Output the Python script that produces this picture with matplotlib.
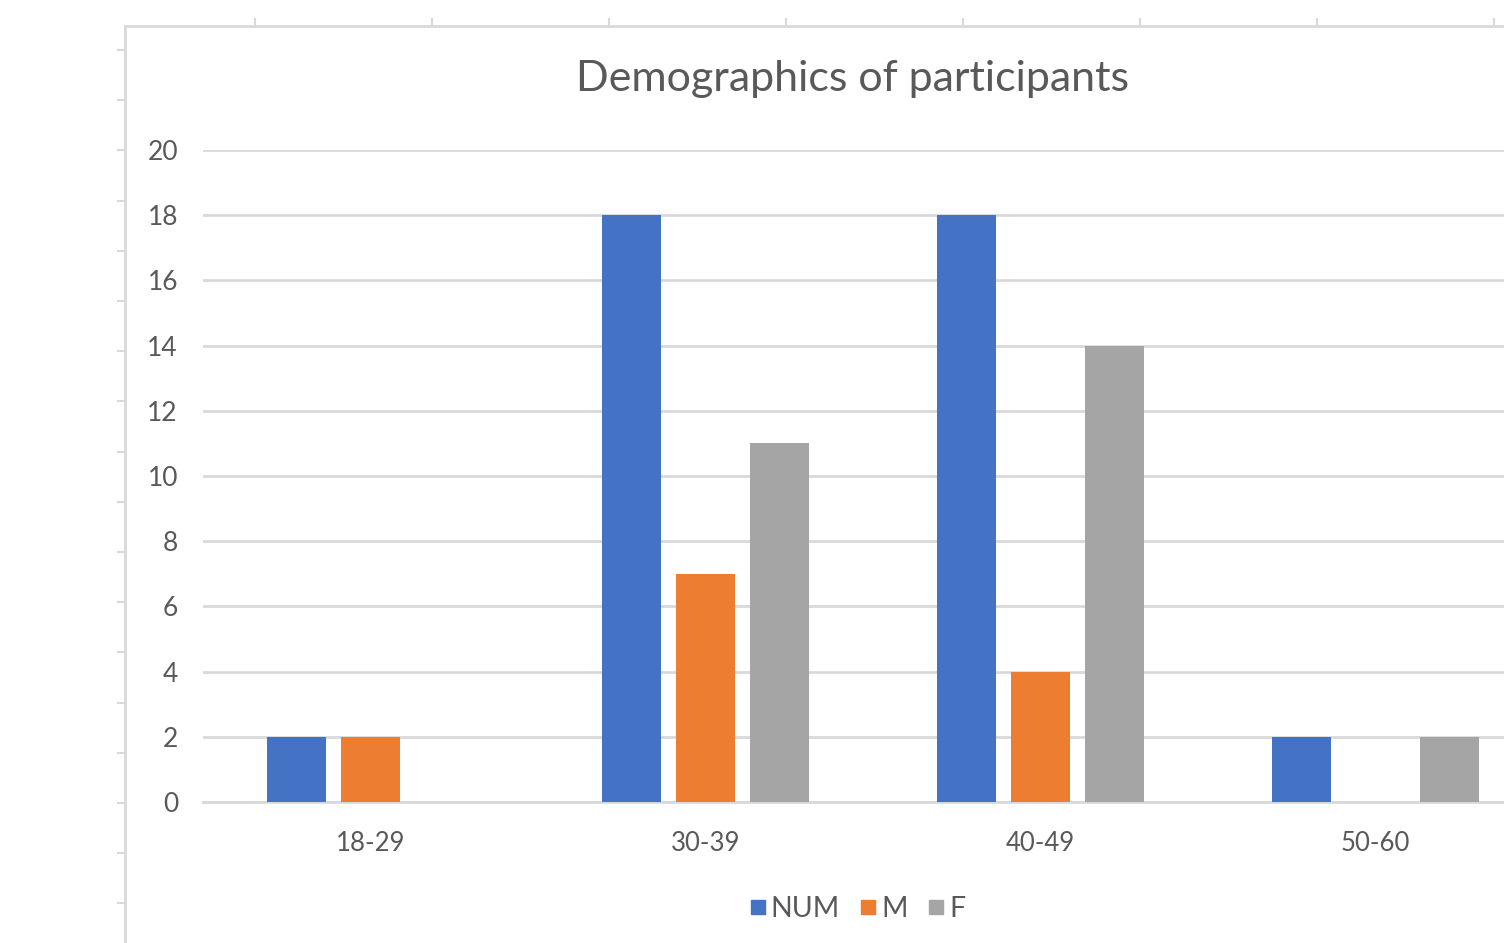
import numpy as np
import matplotlib
matplotlib.use('Agg')
import matplotlib.pyplot as plt
from matplotlib.lines import Line2D

# data
age_groups = ['18-29', '30-39', '40-49', '50-60']
num_vals = [2, 18, 18, 2]
m_vals = [2, 7, 4, 0]
f_vals = [0, 11, 14, 2]
series_names = ['NUM', 'M', 'F']
y_ticks = [0, 2, 4, 6, 8, 10, 12, 14, 16, 18, 20]

colors = ['#4472C4', '#ED7D31', '#A5A5A5']
text_col = '#595959'
grid_col = '#d9d9d9'

plt.rcParams['font.family'] = ['Lato', 'DejaVu Sans']

W, H = 1504, 943
fig = plt.figure(figsize=(W / 100, H / 100), dpi=100)

# outer frame of the chart area (the screenshot shows its border with ruler ticks)
frame = fig.add_axes([125 / W, -0.05, 1.0, (H - 26) / H + 0.05])
frame.set_xlim(125, 125 + W)
frame.set_ylim(-0.05 * H, H - 26)
for s in ['right', 'bottom']:
    frame.spines[s].set_visible(False)
for s in ['top', 'left']:
    frame.spines[s].set_color(grid_col)
    frame.spines[s].set_linewidth(2)
frame.xaxis.tick_top()
frame.set_xticks(np.arange(255, W + 1, 177))
frame.set_yticks([H - y for y in np.arange(50, H, 50.2)])
frame.tick_params(axis='both', direction='out', length=6, width=1.5,
                  color=grid_col, labeltop=False, labelleft=False, labelbottom=False)
frame.patch.set_alpha(0)

# main plot area
ax = fig.add_axes([203 / W, (H - 802) / H, 1340 / W, (802 - 150) / H])
x = np.arange(len(age_groups))
width = 0.176
offsets = [-0.222, 0.0, 0.222]
for vals, off, c, name in zip([num_vals, m_vals, f_vals], offsets, colors, series_names):
    ax.bar(x + off, vals, width, color=c, label=name, zorder=3)

ax.set_xlim(-0.5, len(age_groups) - 0.5)
ax.set_ylim(0, 20)
ax.set_yticks(y_ticks)
ax.set_xticks(x)
ax.set_xticklabels(age_groups)
ax.yaxis.grid(True, color=grid_col, linewidth=2, zorder=0)
ax.set_axisbelow(True)
for s in ['top', 'right', 'left']:
    ax.spines[s].set_visible(False)
ax.spines['bottom'].set_color(grid_col)
ax.spines['bottom'].set_linewidth(2)
ax.tick_params(axis='x', length=0, pad=21, labelsize=18.5, labelcolor=text_col)
ax.tick_params(axis='y', length=0, pad=18, labelsize=19, labelcolor=text_col)
ax.patch.set_alpha(0)

fig.text(852 / W, 1 - 79 / H, 'Demographics of participants', ha='center', va='center',
         fontsize=31, color=text_col)

handles = [Line2D([0], [0], marker='s', linestyle='none', markersize=10,
                  markerfacecolor=c, markeredgecolor=c) for c in colors]
fig.legend(handles, series_names, loc='center', bbox_to_anchor=(858 / W, 1 - 909 / H),
           ncol=3, frameon=False, fontsize=20.5, labelcolor=text_col,
           handlelength=0.5, handletextpad=0.2, columnspacing=0.75)

fig.savefig('out.png', dpi=100)
